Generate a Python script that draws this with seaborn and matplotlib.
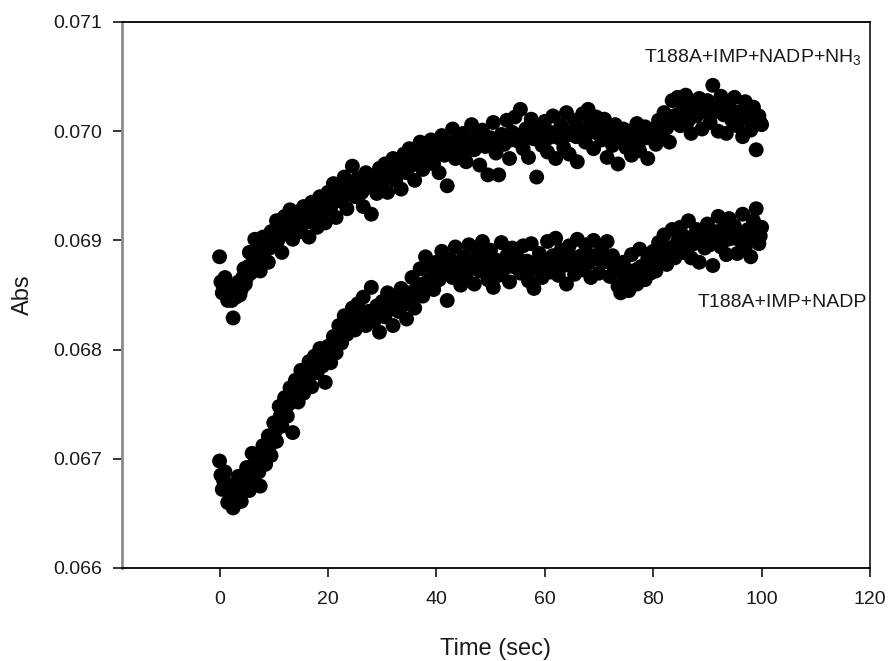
import matplotlib
matplotlib.use("Agg")
import matplotlib.pyplot as plt
import seaborn as sns
import pandas as pd

# ---- data ----
# readings on the half-second grid
time_sec = [
    0, 0.5, 1, 1.5, 2, 2.5, 3, 3.5, 4, 4.5,
    5, 5.5, 6, 6.5, 7, 7.5, 8, 8.5, 9, 9.5,
    10, 10.5, 11, 11.5, 12, 12.5, 13, 13.5, 14, 14.5,
    15, 15.5, 16, 16.5, 17, 17.5, 18, 18.5, 19, 19.5,
    20, 20.5, 21, 21.5, 22, 22.5, 23, 23.5, 24, 24.5,
    25, 25.5, 26, 26.5, 27, 27.5, 28, 28.5, 29, 29.5,
    30, 30.5, 31, 31.5, 32, 32.5, 33, 33.5, 34, 34.5,
    35, 35.5, 36, 36.5, 37, 37.5, 38, 38.5, 39, 39.5,
    40, 40.5, 41, 41.5, 42, 42.5, 43, 43.5, 44, 44.5,
    45, 45.5, 46, 46.5, 47, 47.5, 48, 48.5, 49, 49.5,
    50, 50.5, 51, 51.5, 52, 52.5, 53, 53.5, 54, 54.5,
    55, 55.5, 56, 56.5, 57, 57.5, 58, 58.5, 59, 59.5,
    60, 60.5, 61, 61.5, 62, 62.5, 63, 63.5, 64, 64.5,
    65, 65.5, 66, 66.5, 67, 67.5, 68, 68.5, 69, 69.5,
    70, 70.5, 71, 71.5, 72, 72.5, 73, 73.5, 74, 74.5,
    75, 75.5, 76, 76.5, 77, 77.5, 78, 78.5, 79, 79.5,
    80, 80.5, 81, 81.5, 82, 82.5, 83, 83.5, 84, 84.5,
    85, 85.5, 86, 86.5, 87, 87.5, 88, 88.5, 89, 89.5,
    90, 90.5, 91, 91.5, 92, 92.5, 93, 93.5, 94, 94.5,
    95, 95.5, 96, 96.5, 97, 97.5, 98, 98.5, 99, 99.5,
    100,
]

abs_with_nh3 = [
    0.06885, 0.06852, 0.06866, 0.06845, 0.06858, 0.06829, 0.06848, 0.06862, 0.06855, 0.06874,
    0.06866, 0.06889, 0.06878, 0.06901, 0.06884, 0.06872, 0.06903, 0.06891, 0.06880, 0.06908,
    0.06897, 0.06918, 0.06903, 0.06889, 0.06922, 0.06910, 0.06928, 0.06901, 0.06915, 0.06926,
    0.06908, 0.06931, 0.06919, 0.06903, 0.06935, 0.06922, 0.06912, 0.06940, 0.06926, 0.06916,
    0.06944, 0.06930, 0.06952, 0.06921, 0.06947, 0.06936, 0.06958, 0.06929, 0.06951, 0.06968,
    0.06940, 0.06957, 0.06946, 0.06931, 0.06962, 0.06950, 0.06924, 0.06958, 0.06943, 0.06966,
    0.06952, 0.06970, 0.06944, 0.06963, 0.06975, 0.06955, 0.06968, 0.06947, 0.06979, 0.06962,
    0.06984, 0.06969, 0.06955, 0.06978, 0.06990, 0.06965, 0.06982, 0.06973, 0.06992, 0.06970,
    0.06985, 0.06962, 0.06996, 0.06978, 0.06950, 0.06989, 0.07002, 0.06975, 0.06993, 0.06981,
    0.06998, 0.06972, 0.06991, 0.07006, 0.06983, 0.06995, 0.06969, 0.07001, 0.06986, 0.06960,
    0.06994, 0.07008, 0.06980, 0.06960, 0.06997, 0.06988, 0.07010, 0.06975, 0.06999, 0.07013,
    0.06991, 0.07020, 0.06984, 0.07002, 0.06976, 0.07011, 0.06993, 0.06958, 0.07005, 0.06987,
    0.07009, 0.06981, 0.06999, 0.07014, 0.06975, 0.06994, 0.07006, 0.06985, 0.07017, 0.06979,
    0.06998, 0.07010, 0.06972, 0.07003, 0.07016, 0.06990, 0.07020, 0.07008, 0.06984, 0.07013,
    0.07004, 0.06992, 0.07011, 0.06976, 0.06998, 0.06987, 0.07006, 0.06970, 0.06994, 0.07002,
    0.06985, 0.07000, 0.06978, 0.06996, 0.07007, 0.06982, 0.06993, 0.07004, 0.06975, 0.06999,
    0.07002, 0.06988, 0.07010, 0.06996, 0.07017, 0.07003, 0.06990, 0.07028, 0.07012, 0.07031,
    0.07005, 0.07022, 0.07033, 0.07010, 0.06998, 0.07025, 0.07014, 0.07030, 0.07002, 0.07019,
    0.07028, 0.07008, 0.07042, 0.07020, 0.07000, 0.07032, 0.07015, 0.06998, 0.07024, 0.07010,
    0.07031, 0.07005, 0.07018, 0.06995, 0.07027, 0.07012, 0.07001, 0.07022, 0.06983, 0.07014,
    0.07006,
]

abs_without_nh3 = [
    0.06698, 0.06672, 0.06688, 0.06660, 0.06676, 0.06655, 0.06668, 0.06684, 0.06661, 0.06679,
    0.06692, 0.06671, 0.06705, 0.06686, 0.06698, 0.06675, 0.06712, 0.06695, 0.06721, 0.06703,
    0.06733, 0.06716, 0.06748, 0.06730, 0.06756, 0.06739, 0.06765, 0.06724, 0.06772, 0.06752,
    0.06781, 0.06760, 0.06770, 0.06789, 0.06766, 0.06794, 0.06779, 0.06801, 0.06785, 0.06770,
    0.06803, 0.06788, 0.06812, 0.06797, 0.06822, 0.06806, 0.06831, 0.06814, 0.06826, 0.06838,
    0.06818, 0.06842, 0.06829, 0.06848, 0.06822, 0.06835, 0.06857, 0.06826, 0.06840, 0.06816,
    0.06844, 0.06830, 0.06852, 0.06837, 0.06822, 0.06848, 0.06835, 0.06856, 0.06841, 0.06828,
    0.06852, 0.06866, 0.06838, 0.06860, 0.06874, 0.06849, 0.06885, 0.06862, 0.06876, 0.06855,
    0.06880, 0.06864, 0.06890, 0.06872, 0.06845, 0.06883, 0.06866, 0.06894, 0.06871, 0.06859,
    0.06885, 0.06868, 0.06896, 0.06877, 0.06860, 0.06889, 0.06872, 0.06899, 0.06880, 0.06864,
    0.06891, 0.06857, 0.06882, 0.06868, 0.06898, 0.06874, 0.06886, 0.06862, 0.06893, 0.06878,
    0.06884, 0.06870, 0.06895, 0.06879, 0.06863, 0.06897, 0.06856, 0.06875, 0.06888, 0.06866,
    0.06880, 0.06899, 0.06871, 0.06886, 0.06902, 0.06868, 0.06891, 0.06877, 0.06860, 0.06895,
    0.06882, 0.06869, 0.06901, 0.06885, 0.06873, 0.06896, 0.06879, 0.06866, 0.06900, 0.06884,
    0.06870, 0.06893, 0.06881, 0.06899, 0.06867, 0.06886, 0.06874, 0.06858, 0.06852, 0.06880,
    0.06865, 0.06854, 0.06887, 0.06871, 0.06860, 0.06892, 0.06876, 0.06864, 0.06883, 0.06870,
    0.06890, 0.06872, 0.06898, 0.06881, 0.06905, 0.06878, 0.06893, 0.06910, 0.06884, 0.06899,
    0.06912, 0.06889, 0.06903, 0.06918, 0.06884, 0.06897, 0.06910, 0.06880, 0.06906, 0.06893,
    0.06915, 0.06896, 0.06877, 0.06908, 0.06922, 0.06894, 0.06911, 0.06887, 0.06920, 0.06902,
    0.06913, 0.06888, 0.06905, 0.06924, 0.06894, 0.06910, 0.06885, 0.06918, 0.06929, 0.06897,
    0.06912,
]

# readings in between (quarter-second offsets), mostly the band's core
time_sec_b = [
    0.25, 0.75, 1.25, 1.75, 2.25, 2.75, 3.25, 3.75, 4.25, 4.75,
    5.25, 5.75, 6.25, 6.75, 7.25, 7.75, 8.25, 8.75, 9.25, 9.75,
    10.25, 10.75, 11.25, 11.75, 12.25, 12.75, 13.25, 13.75, 14.25, 14.75,
    15.25, 15.75, 16.25, 16.75, 17.25, 17.75, 18.25, 18.75, 19.25, 19.75,
    20.25, 20.75, 21.25, 21.75, 22.25, 22.75, 23.25, 23.75, 24.25, 24.75,
    25.25, 25.75, 26.25, 26.75, 27.25, 27.75, 28.25, 28.75, 29.25, 29.75,
    30.25, 30.75, 31.25, 31.75, 32.25, 32.75, 33.25, 33.75, 34.25, 34.75,
    35.25, 35.75, 36.25, 36.75, 37.25, 37.75, 38.25, 38.75, 39.25, 39.75,
    40.25, 40.75, 41.25, 41.75, 42.25, 42.75, 43.25, 43.75, 44.25, 44.75,
    45.25, 45.75, 46.25, 46.75, 47.25, 47.75, 48.25, 48.75, 49.25, 49.75,
    50.25, 50.75, 51.25, 51.75, 52.25, 52.75, 53.25, 53.75, 54.25, 54.75,
    55.25, 55.75, 56.25, 56.75, 57.25, 57.75, 58.25, 58.75, 59.25, 59.75,
    60.25, 60.75, 61.25, 61.75, 62.25, 62.75, 63.25, 63.75, 64.25, 64.75,
    65.25, 65.75, 66.25, 66.75, 67.25, 67.75, 68.25, 68.75, 69.25, 69.75,
    70.25, 70.75, 71.25, 71.75, 72.25, 72.75, 73.25, 73.75, 74.25, 74.75,
    75.25, 75.75, 76.25, 76.75, 77.25, 77.75, 78.25, 78.75, 79.25, 79.75,
    80.25, 80.75, 81.25, 81.75, 82.25, 82.75, 83.25, 83.75, 84.25, 84.75,
    85.25, 85.75, 86.25, 86.75, 87.25, 87.75, 88.25, 88.75, 89.25, 89.75,
    90.25, 90.75, 91.25, 91.75, 92.25, 92.75, 93.25, 93.75, 94.25, 94.75,
    95.25, 95.75, 96.25, 96.75, 97.25, 97.75, 98.25, 98.75, 99.25, 99.75,
]

abs_with_nh3_b = [
    0.06862, 0.06858, 0.06850, 0.06855, 0.06845, 0.06852, 0.06857, 0.06850, 0.06866, 0.06860,
    0.06876, 0.06870, 0.06885, 0.06880, 0.06893, 0.06887, 0.06890, 0.06898, 0.06893, 0.06900,
    0.06906, 0.06900, 0.06910, 0.06906, 0.06912, 0.06918, 0.06913, 0.06917, 0.06921, 0.06915,
    0.06920, 0.06925, 0.06917, 0.06922, 0.06928, 0.06924, 0.06930, 0.06927, 0.06933, 0.06930,
    0.06937, 0.06941, 0.06936, 0.06943, 0.06940, 0.06946, 0.06942, 0.06947, 0.06945, 0.06950,
    0.06948, 0.06952, 0.06944, 0.06953, 0.06956, 0.06950, 0.06955, 0.06952, 0.06958, 0.06955,
    0.06960, 0.06957, 0.06962, 0.06960, 0.06965, 0.06961, 0.06967, 0.06964, 0.06969, 0.06966,
    0.06973, 0.06970, 0.06975, 0.06972, 0.06977, 0.06975, 0.06980, 0.06977, 0.06981, 0.06979,
    0.06983, 0.06980, 0.06985, 0.06982, 0.06987, 0.06984, 0.06988, 0.06985, 0.06989, 0.06986,
    0.06988, 0.06985, 0.06990, 0.06987, 0.06991, 0.06988, 0.06992, 0.06989, 0.06991, 0.06988,
    0.06992, 0.06989, 0.06993, 0.06990, 0.06994, 0.06991, 0.06995, 0.06992, 0.06996, 0.06993,
    0.06996, 0.06993, 0.06997, 0.06994, 0.06998, 0.06995, 0.06997, 0.06994, 0.06998, 0.06995,
    0.06997, 0.06994, 0.06998, 0.06996, 0.06999, 0.06995, 0.06998, 0.06996, 0.06999, 0.06997,
    0.06998, 0.06995, 0.06999, 0.07001, 0.06998, 0.07002, 0.06999, 0.07003, 0.07000, 0.06998,
    0.06998, 0.06995, 0.06999, 0.06996, 0.06998, 0.06994, 0.06997, 0.06993, 0.06996, 0.06994,
    0.06994, 0.06991, 0.06995, 0.06992, 0.06996, 0.06993, 0.06997, 0.06994, 0.06998, 0.06996,
    0.06999, 0.07001, 0.07003, 0.07006, 0.07004, 0.07009, 0.07011, 0.07014, 0.07013, 0.07016,
    0.07014, 0.07017, 0.07015, 0.07018, 0.07016, 0.07019, 0.07017, 0.07020, 0.07018, 0.07021,
    0.07019, 0.07022, 0.07020, 0.07018, 0.07021, 0.07017, 0.07019, 0.07016, 0.07018, 0.07015,
    0.07017, 0.07014, 0.07016, 0.07012, 0.07014, 0.07011, 0.07013, 0.07009, 0.07011, 0.07008,
]

abs_without_nh3_b = [
    0.06685, 0.06680, 0.06674, 0.06670, 0.06666, 0.06662, 0.06672, 0.06668, 0.06674, 0.06682,
    0.06681, 0.06690, 0.06694, 0.06700, 0.06688, 0.06702, 0.06705, 0.06710, 0.06712, 0.06720,
    0.06725, 0.06732, 0.06740, 0.06743, 0.06747, 0.06750, 0.06752, 0.06756, 0.06760, 0.06764,
    0.06768, 0.06772, 0.06775, 0.06777, 0.06780, 0.06782, 0.06785, 0.06788, 0.06790, 0.06794,
    0.06796, 0.06800, 0.06804, 0.06808, 0.06811, 0.06815, 0.06818, 0.06821, 0.06822, 0.06825,
    0.06828, 0.06826, 0.06831, 0.06829, 0.06833, 0.06830, 0.06834, 0.06832, 0.06835, 0.06833,
    0.06836, 0.06839, 0.06837, 0.06841, 0.06839, 0.06843, 0.06841, 0.06845, 0.06843, 0.06847,
    0.06849, 0.06852, 0.06851, 0.06855, 0.06857, 0.06860, 0.06862, 0.06864, 0.06866, 0.06868,
    0.06867, 0.06870, 0.06869, 0.06873, 0.06871, 0.06874, 0.06872, 0.06876, 0.06874, 0.06877,
    0.06875, 0.06878, 0.06876, 0.06879, 0.06877, 0.06880, 0.06878, 0.06881, 0.06877, 0.06879,
    0.06876, 0.06879, 0.06877, 0.06880, 0.06878, 0.06881, 0.06877, 0.06879, 0.06876, 0.06880,
    0.06877, 0.06880, 0.06878, 0.06881, 0.06876, 0.06879, 0.06874, 0.06878, 0.06876, 0.06879,
    0.06880, 0.06883, 0.06879, 0.06882, 0.06880, 0.06884, 0.06881, 0.06878, 0.06882, 0.06880,
    0.06881, 0.06884, 0.06882, 0.06886, 0.06883, 0.06885, 0.06882, 0.06886, 0.06883, 0.06885,
    0.06882, 0.06885, 0.06881, 0.06883, 0.06879, 0.06877, 0.06874, 0.06872, 0.06870, 0.06868,
    0.06870, 0.06868, 0.06872, 0.06870, 0.06874, 0.06876, 0.06875, 0.06878, 0.06880, 0.06882,
    0.06883, 0.06886, 0.06885, 0.06888, 0.06890, 0.06889, 0.06892, 0.06894, 0.06893, 0.06896,
    0.06897, 0.06899, 0.06896, 0.06900, 0.06898, 0.06901, 0.06899, 0.06902, 0.06900, 0.06903,
    0.06901, 0.06904, 0.06900, 0.06903, 0.06905, 0.06902, 0.06904, 0.06901, 0.06905, 0.06903,
    0.06904, 0.06901, 0.06905, 0.06903, 0.06906, 0.06902, 0.06905, 0.06903, 0.06906, 0.06904,
]

x_ticks = [0, 20, 40, 60, 80, 100, 120]
y_ticks = [0.066, 0.067, 0.068, 0.069, 0.070, 0.071]
label_nh3 = r"T188A+IMP+NADP+NH$_\mathregular{3}$"
label_plain = "T188A+IMP+NADP"

# ---- style ----
sns.set_style("ticks")
plt.rcParams["font.family"] = ["Liberation Sans", "DejaVu Sans"]
plt.rcParams["mathtext.fontset"] = "custom"
plt.rcParams["mathtext.rm"] = "Liberation Sans"
plt.rcParams["mathtext.it"] = "Liberation Sans:italic"

df = pd.concat([
    pd.DataFrame({"Time": time_sec, "Abs": abs_with_nh3, "series": label_nh3}),
    pd.DataFrame({"Time": time_sec_b, "Abs": abs_with_nh3_b, "series": label_nh3}),
    pd.DataFrame({"Time": time_sec, "Abs": abs_without_nh3, "series": label_plain}),
    pd.DataFrame({"Time": time_sec_b, "Abs": abs_without_nh3_b, "series": label_plain}),
])

fig = plt.figure(figsize=(8.91, 6.61), dpi=100)
ax = fig.add_axes([122 / 891, 93 / 661, 748 / 891, 546 / 661])

sns.scatterplot(data=df, x="Time", y="Abs", hue="series",
                palette=["black", "black"], s=115, linewidth=0,
                legend=False, ax=ax, zorder=3)

ax.set_xlim(-18, 120)
ax.set_ylim(0.066, 0.071)
ax.set_xticks(x_ticks)
ax.set_yticks(y_ticks)
ax.set_xticklabels([str(v) for v in x_ticks])
ax.set_yticklabels([f"{v:.3f}" for v in y_ticks])

ax.tick_params(axis="both", direction="out", length=6.5, width=1.1,
               color="black", labelsize=14, labelcolor="#1a1a1a")
ax.tick_params(axis="y", pad=8)
ax.tick_params(axis="x", pad=10)

for side in ["top", "bottom", "right"]:
    ax.spines[side].set_visible(True)
    ax.spines[side].set_color("black")
    ax.spines[side].set_linewidth(1.3)
ax.spines["right"].set_linewidth(1.1)
ax.spines["left"].set_color("#8c8c8c")
ax.spines["left"].set_linewidth(2.0)

ax.set_xlabel("Time (sec)", fontsize=17, color="#1a1a1a", labelpad=22)
ax.set_ylabel("Abs", fontsize=17, color="#1a1a1a", labelpad=14)

ax.text(118.5, 0.070634, label_nh3, ha="right", va="baseline",
        fontsize=14, color="#1a1a1a")
ax.text(119.4, 0.068390, label_plain, ha="right", va="baseline",
        fontsize=14, color="#1a1a1a")

fig.savefig("out.png", dpi=100)
